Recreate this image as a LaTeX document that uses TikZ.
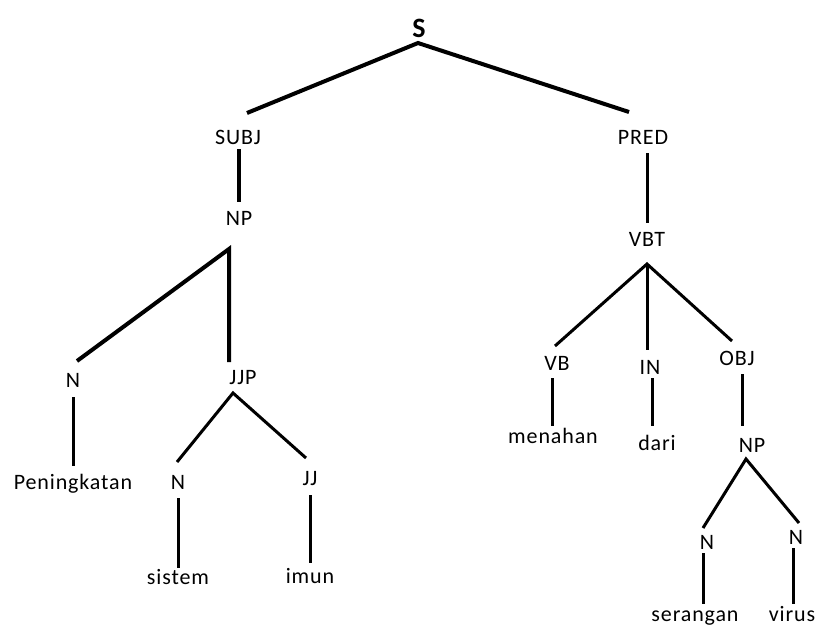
\documentclass[tikz,border=0pt]{standalone}
\usepackage{fontspec}
\setmainfont{Carlito}[LetterSpace=4]
\begin{document}
\begin{tikzpicture}[x=1pt,y=-1pt,
  lbl/.style={inner sep=0pt,font=\fontsize{22}{25}\selectfont},
  thick4/.style={line width=4pt},
  thick3/.style={line width=3pt}]
\useasboundingbox (0,0) rectangle (821,626);
% nodes
\node[inner sep=0pt,font=\fontsize{28}{32}\selectfont\bfseries] (S) at (419,28) {S};
\node[lbl] (SUBJ) at (238,137) {SUBJ};
\node[lbl] (NP1) at (239,218) {NP};
\node[lbl] (N1) at (73,380) {N};
\node[lbl] (JJP) at (243,378) {JJP};
\node[lbl,anchor=base] (Pen) at (73,489) {Peningkatan};
\node[lbl] (N2) at (178,482) {N};
\node[lbl] (JJ) at (310,479) {JJ};
\node[lbl] (sis) at (178,577) {sistem};
\node[lbl] (imun) at (310,576) {imun};
\node[lbl] (PRED) at (643,137) {PRED};
\node[lbl] (VBT) at (647,239) {VBT};
\node[lbl] (VB) at (557,363) {VB};
\node[lbl] (IN) at (650,367) {IN};
\node[lbl] (OBJ) at (737,358) {OBJ};
\node[lbl] (men) at (553,436) {menahan};
\node[lbl] (dari) at (657,443) {dari};
\node[lbl] (NP2) at (752,445) {NP};
\node[lbl] (N3) at (707,542) {N};
\node[lbl] (N4) at (796,537) {N};
\node[lbl,anchor=base] (ser) at (695,621) {serangan};
\node[lbl,anchor=base] (vir) at (792,621) {virus};
% connector end points
\coordinate (S-b) at (418,43);
\coordinate (SUBJ-t) at (247,113);
\coordinate (PRED-t) at (629,112);
\coordinate (SUBJ-b) at (239,149);
\coordinate (NP1-t) at (239,202);
\coordinate (NP1-b) at (229,249);
\coordinate (N1-t) at (77,361);
\coordinate (JJP-t) at (229,362);
\coordinate (N1-b) at (73,397);
\coordinate (Pen-t) at (73,466);
\coordinate (JJP-b) at (233,393);
\coordinate (N2-t) at (177,462);
\coordinate (JJ-t) at (306,458);
\coordinate (N2-b) at (178,498);
\coordinate (sis-t) at (178,568);
\coordinate (JJ-b) at (310,495);
\coordinate (imun-t) at (310,563);
\coordinate (PRED-b) at (647,153);
\coordinate (VBT-t) at (647,223);
\coordinate (VBT-b) at (647,264);
\coordinate (VB-t) at (555,346);
\coordinate (IN-t) at (647,350);
\coordinate (OBJ-t) at (732,341);
\coordinate (VB-b) at (552,378);
\coordinate (men-t) at (552,426);
\coordinate (IN-b) at (652,378);
\coordinate (dari-t) at (652,426);
\coordinate (OBJ-b) at (742,374);
\coordinate (NP2-t) at (742,426);
\coordinate (NP2-b) at (746,459);
\coordinate (N3-t) at (703,528);
\coordinate (N4-t) at (799,523);
\coordinate (N3-b) at (703,553);
\coordinate (ser-t) at (703,604);
\coordinate (N4-b) at (793,548);
\coordinate (vir-t) at (793,604);
% connectors
\draw[thick4] (SUBJ-t) -- (S-b) -- (PRED-t);
\draw[thick4] (SUBJ-b) -- (NP1-t);
\draw[thick4] (N1-t) -- (NP1-b) -- (JJP-t);
\draw[thick3] (N1-b) -- (Pen-t);
\draw[thick3] (N2-t) -- (JJP-b) -- (JJ-t);
\draw[thick3] (N2-b) -- (sis-t);
\draw[thick3] (JJ-b) -- (imun-t);
\draw[thick3] (PRED-b) -- (VBT-t);
\draw[thick3] (VB-t) -- (VBT-b) -- (OBJ-t);
\draw[thick3] (VBT-b) -- (IN-t);
\draw[thick3] (VB-b) -- (men-t);
\draw[thick3] (IN-b) -- (dari-t);
\draw[thick3] (OBJ-b) -- (NP2-t);
\draw[thick3] (N3-t) -- (NP2-b) -- (N4-t);
\draw[thick3] (N3-b) -- (ser-t);
\draw[thick3] (N4-b) -- (vir-t);
\end{tikzpicture}
\end{document}
